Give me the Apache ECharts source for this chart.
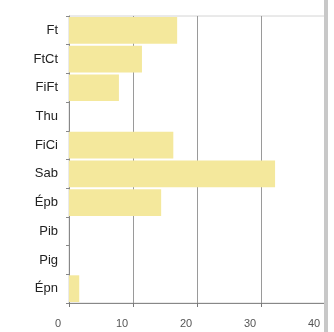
<!DOCTYPE html>
<html>
<head>
<meta charset="utf-8">
<script src="https://cdn.jsdelivr.net/npm/echarts@6/dist/echarts.min.js"></script>
<style>
html, body { margin: 0; padding: 0; background: #fff; }
#chart { width: 334px; height: 332px; }
</style>
</head>
<body>
<div id="chart"></div>
<script>
// categories top to bottom
var categories = ['Ft', 'FtCt', 'FiFt', 'Thu', 'FiCi', 'Sab', 'Épb', 'Pib', 'Pig', 'Épn']
var values = [16.9, 11.4, 7.8, 0, 16.3, 32.2, 14.4, 0, 0, 1.6]
var xTicks = [0, 10, 20, 30, 40]

var chart = echarts.init(document.getElementById('chart'))
var option = {
    animation: false,
    grid: {
        left: 69,
        top: 16,
        right: 9,
        bottom: 29,
        show: true,
        borderColor: '#d4d4d4',
        borderWidth: 1
    },
    xAxis: {
        type: 'value',
        min: xTicks[0],
        max: xTicks[xTicks.length - 1],
        interval: 10,
        axisLine: { show: true, lineStyle: { color: '#888' } },
        axisTick: { show: true, length: 4, lineStyle: { color: '#777' } },
        splitLine: { show: true, lineStyle: { color: '#9a9a9a', width: 1 } },
        axisLabel: {
            color: '#555',
            fontSize: 11,
            fontFamily: 'Liberation Sans',
            margin: 15,
            padding: [0, 22, 0, 0]
        }
    },
    yAxis: {
        type: 'category',
        inverse: true,
        data: categories,
        axisLine: { show: true, lineStyle: { color: '#888' } },
        axisTick: { show: true, length: 3, lineStyle: { color: '#888' } },
        axisLabel: {
            color: '#222',
            fontSize: 13,
            fontFamily: 'Liberation Sans',
            margin: 11
        }
    },
    series: [{
        type: 'bar',
        data: values,
        barCategoryGap: '7%',
        itemStyle: { color: '#f4e89c' }
    }],
    graphic: [{
        type: 'rect',
        shape: { x: 324, y: 0, width: 4, height: 332 },
        style: { fill: '#c8c8c8' },
        z: 100
    }]
}
chart.setOption(option)
</script>
</body>
</html>
